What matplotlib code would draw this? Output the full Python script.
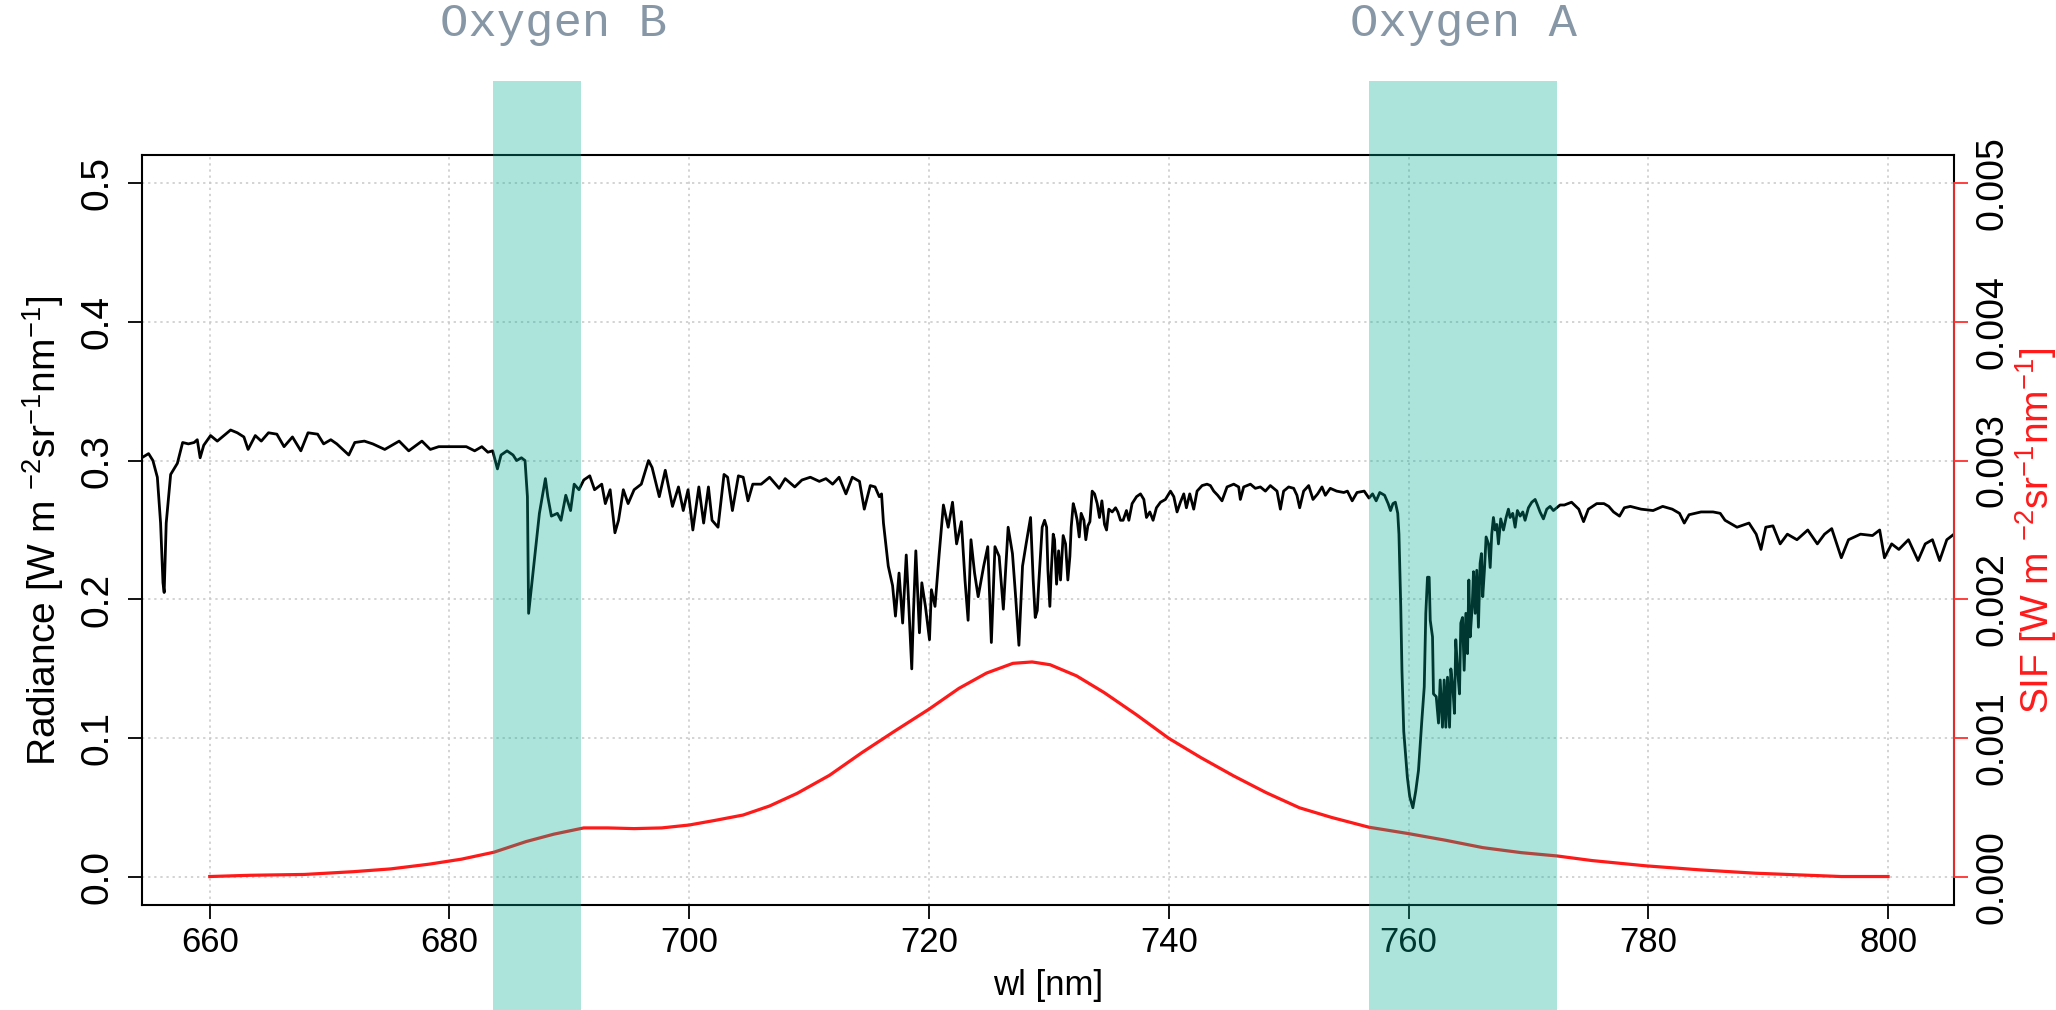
import matplotlib
matplotlib.use("Agg")
import matplotlib.pyplot as plt

plt.rcParams['font.family'] = ['Liberation Sans', 'DejaVu Sans']
plt.rcParams['mathtext.default'] = 'regular'

# radiance spectrum [W m-2 sr-1 nm-1]
wl = [654.33, 654.9, 655.26, 655.63, 655.9, 656.1, 656.2, 656.37, 656.74, 657.3,
      657.74, 658.22, 658.7, 658.96, 659.2, 659.5, 660.07, 660.63, 661.74, 662.3,
      662.85, 663.2, 663.8, 664.3, 664.9, 665.6, 666.2, 666.9, 667.6, 668.2,
      669.0, 669.5, 670.1, 670.6, 671.6, 672.1, 672.9, 673.6, 674.6, 675.8,
      676.6, 677.7, 678.4, 679.1, 680.3, 681.4, 682.1, 682.7, 683.2, 683.6,
      684.0, 684.3, 684.8, 685.3, 685.6, 686.0, 686.3, 686.5, 686.6, 686.9,
      687.5, 688.0, 688.2, 688.5, 689.0, 689.3, 689.7, 690.1, 690.4, 690.8,
      691.2, 691.7, 692.1, 692.7, 693.0, 693.4, 693.8, 694.1, 694.5, 694.9,
      695.4, 696.0, 696.6, 696.9, 697.5, 698.0, 698.6, 699.1, 699.5, 699.9,
      700.3, 700.8, 701.2, 701.6, 701.9, 702.4, 702.9, 703.2, 703.6, 704.1,
      704.5, 704.9, 705.3, 706.0, 706.7, 707.5, 708.0, 708.8, 709.4, 710.1,
      710.85, 711.4, 711.96, 712.5, 713.07, 713.6, 714.2, 714.6, 715.1, 715.5,
      715.85, 716.04, 716.2, 716.6, 716.96, 717.2, 717.5, 717.8, 718.1, 718.26,
      718.56, 718.7, 718.9, 719.2, 719.4, 719.7, 720.04, 720.2, 720.5, 720.85,
      721.2, 721.6, 721.96, 722.3, 722.7, 723.0, 723.26, 723.5, 723.8, 724.1,
      724.56, 724.9, 725.2, 725.5, 725.85, 726.2, 726.6, 726.96, 727.2, 727.5,
      727.8, 728.1,
      728.47, 728.69, 728.86, 729.03, 729.17, 729.44, 729.64, 729.81, 729.92, 730.08,
      730.19, 730.36, 730.47, 730.64, 730.81, 730.97, 731.19, 731.39, 731.58, 731.75,
      731.86, 732.03, 732.19, 732.36, 732.53, 732.69, 732.92, 733.08, 733.25, 733.42,
      733.61, 733.81, 734.03, 734.22, 734.42, 734.64, 734.81, 735.0, 735.28, 735.56,
      735.75, 735.97, 736.19, 736.47, 736.67, 736.94, 737.31, 737.64, 737.92, 738.14,
      738.42, 738.69, 738.97, 739.31, 739.72, 740.14, 740.42, 740.69, 740.97, 741.25,
      741.47, 741.75, 742.08, 742.36, 742.78, 743.19, 743.47, 743.75, 744.08, 744.44,
      744.86, 745.42, 745.83, 745.97, 746.25, 746.81, 747.22, 747.64, 748.06, 748.47,
      749.03, 749.31, 749.58, 750.0, 750.42, 750.69, 750.92, 751.25, 751.67, 752.03,
      752.42, 752.78, 753.06, 753.47,
      754.0, 754.6, 754.9, 755.3, 755.7, 756.3, 756.7, 757.0, 757.3, 757.6,
      758.0, 758.3, 758.5, 758.7, 758.9, 759.1, 759.2, 759.35, 759.45, 759.6,
      759.9, 760.1, 760.36, 760.6,
      760.83, 761.11, 761.31, 761.44, 761.58, 761.72, 761.81, 762.0, 762.08, 762.31,
      762.5, 762.64, 762.83, 762.97, 763.11, 763.25, 763.42, 763.53, 763.69, 763.83,
      763.94, 764.11, 764.25, 764.36, 764.5, 764.64, 764.78, 764.92, 765.03, 765.14,
      765.31, 765.42, 765.56, 765.69, 765.83, 765.97, 766.08, 766.19, 766.33, 766.47,
      766.67, 766.81, 766.94, 767.08, 767.22, 767.36, 767.5, 767.69, 767.92, 768.14,
      768.33, 768.47, 768.69, 768.89, 769.08, 769.31, 769.53, 769.72, 770.0, 770.28,
      770.56, 770.75, 770.97, 771.25, 771.53, 771.81, 772.08, 772.36, 772.64,
      773.0, 773.6, 774.2, 774.6, 775.0, 775.7, 776.3, 776.7, 777.1, 777.6,
      778.0, 778.5,
      779.4, 780.4, 781.2, 782.0, 782.6, 783.0, 783.4, 784.4, 785.4, 786.0,
      786.4, 787.4, 788.4, 789.0, 789.4, 789.8, 790.4, 791.0, 791.6, 792.4,
      793.3, 794.1, 794.7, 795.3, 796.1, 796.7, 797.7, 798.7, 799.3, 799.7,
      800.3, 800.9, 801.7, 802.5, 803.1, 803.7, 804.3, 804.9, 805.5]
radiance = [0.302, 0.305, 0.300, 0.288, 0.255, 0.212, 0.205, 0.255, 0.290, 0.298,
            0.313, 0.312, 0.313, 0.315, 0.302, 0.311, 0.318, 0.314, 0.322, 0.320,
            0.317, 0.308, 0.318, 0.314, 0.320, 0.319, 0.310, 0.317, 0.307, 0.320,
            0.319, 0.312, 0.315, 0.312, 0.304, 0.313, 0.314, 0.312, 0.308, 0.314,
            0.307, 0.314, 0.308, 0.310, 0.310, 0.310, 0.307, 0.310, 0.306, 0.307,
            0.294, 0.304, 0.307, 0.304, 0.300, 0.302, 0.300, 0.274, 0.190, 0.214,
            0.262, 0.287, 0.274, 0.260, 0.262, 0.257, 0.275, 0.264, 0.283, 0.279,
            0.286, 0.289, 0.279, 0.283, 0.269, 0.279, 0.248, 0.257, 0.279, 0.269,
            0.279, 0.283, 0.300, 0.295, 0.274, 0.293, 0.267, 0.281, 0.264, 0.279,
            0.250, 0.281, 0.255, 0.281, 0.257, 0.252, 0.290, 0.288, 0.264, 0.289,
            0.288, 0.271, 0.283, 0.283, 0.288, 0.280, 0.287, 0.281, 0.286, 0.288,
            0.285, 0.287, 0.283, 0.288, 0.276, 0.288, 0.285, 0.265, 0.282, 0.281,
            0.274, 0.276, 0.255, 0.224, 0.210, 0.188, 0.219, 0.183, 0.232, 0.205,
            0.150, 0.190, 0.235, 0.176, 0.212, 0.195, 0.171, 0.207, 0.195, 0.233,
            0.268, 0.252, 0.270, 0.240, 0.256, 0.214, 0.185, 0.243, 0.219, 0.202,
            0.224, 0.238, 0.169, 0.238, 0.231, 0.193, 0.252, 0.233, 0.205, 0.167,
            0.224, 0.240,
            0.259, 0.214, 0.187, 0.192, 0.214, 0.252, 0.257, 0.252, 0.221, 0.195,
            0.219, 0.247, 0.243, 0.211, 0.235, 0.214, 0.246, 0.240, 0.214, 0.231,
            0.252, 0.269, 0.264, 0.257, 0.245, 0.262, 0.257, 0.243, 0.253, 0.256,
            0.278, 0.276, 0.269, 0.259, 0.271, 0.254, 0.250, 0.265, 0.263, 0.266,
            0.263, 0.257, 0.257, 0.264, 0.257, 0.269, 0.274, 0.276, 0.272, 0.259,
            0.263, 0.257, 0.266, 0.270, 0.272, 0.278, 0.274, 0.263, 0.270, 0.276,
            0.266, 0.276, 0.265, 0.278, 0.282, 0.283, 0.282, 0.278, 0.275, 0.271,
            0.281, 0.283, 0.281, 0.272, 0.281, 0.283, 0.280, 0.281, 0.278, 0.282,
            0.278, 0.265, 0.278, 0.281, 0.280, 0.275, 0.266, 0.278, 0.282, 0.272,
            0.276, 0.281, 0.275, 0.280,
            0.278, 0.277, 0.278, 0.271, 0.277, 0.278, 0.273, 0.276, 0.271, 0.277,
            0.275, 0.269, 0.264, 0.269, 0.270, 0.262, 0.247, 0.195, 0.149, 0.105,
            0.072, 0.058, 0.050, 0.062,
            0.077, 0.113, 0.137, 0.190, 0.216, 0.216, 0.185, 0.173, 0.132, 0.130,
            0.111, 0.142, 0.108, 0.142, 0.108, 0.144, 0.108, 0.150, 0.137, 0.118,
            0.171, 0.147, 0.132, 0.183, 0.187, 0.149, 0.190, 0.161, 0.214, 0.173,
            0.195, 0.220, 0.190, 0.221, 0.180, 0.226, 0.233, 0.202, 0.221, 0.245,
            0.240, 0.223, 0.247, 0.259, 0.250, 0.254, 0.240, 0.258, 0.250, 0.259,
            0.265, 0.259, 0.262, 0.252, 0.264, 0.260, 0.263, 0.257, 0.266, 0.270,
            0.272, 0.268, 0.263, 0.258, 0.265, 0.267, 0.264, 0.266, 0.268,
            0.268, 0.270, 0.265, 0.256, 0.265, 0.269, 0.269, 0.267, 0.263, 0.260,
            0.266, 0.267,
            0.265, 0.264, 0.267, 0.265, 0.262, 0.255, 0.261, 0.263, 0.263, 0.262,
            0.257, 0.252, 0.255, 0.247, 0.236, 0.252, 0.253, 0.240, 0.247, 0.243,
            0.250, 0.240, 0.247, 0.251, 0.230, 0.243, 0.247, 0.246, 0.250, 0.230,
            0.240, 0.236, 0.243, 0.228, 0.240, 0.243, 0.228, 0.243, 0.247]

# SIF spectrum [W m-2 sr-1 nm-1]
sif_wl = [660, 663.4, 667.9, 672, 675.1, 678.3, 681, 683.7, 686.4, 688.7,
          691.2, 693.2, 695.4, 697.7, 700, 702.2, 704.5, 706.7, 709, 711.7,
          714.4, 717.1, 720, 722.5, 724.8, 727, 728.6, 730.1, 732.3, 734.6,
          737.3, 740, 742.7, 745.4, 748.1, 750.9, 753.6, 756.7, 760, 763.1,
          766.2, 769.4, 772.4, 775.3, 779.8, 784.3, 788.9, 793.4, 796.1, 800]
sif = [0.000005, 0.000014, 0.00002, 0.00004, 0.00006, 0.000094, 0.00013, 0.00018, 0.000257, 0.00031,
       0.000355, 0.000355, 0.00035, 0.000355, 0.000376, 0.00041, 0.000448, 0.000513, 0.000604, 0.000734,
       0.000897, 0.00105, 0.00121, 0.00136, 0.00147, 0.00154, 0.00155, 0.00153, 0.00145, 0.00133,
       0.00117, 0.00100, 0.00086, 0.00073, 0.00061, 0.00050, 0.00043, 0.00036, 0.000314, 0.000266,
       0.000213, 0.000177, 0.000153, 0.00012, 0.000082, 0.000053, 0.000029, 0.000014, 0.000005, 0.000005]

# oxygen absorption bands (nm)
band_names = ['Oxygen B', 'Oxygen A']
band_lo = [683.6, 756.7]
band_hi = [691.0, 772.4]

x_ticks = [660, 680, 700, 720, 740, 760, 780, 800]
y_ticks = [0.0, 0.1, 0.2, 0.3, 0.4, 0.5]
y_labels = ['0.0', '0.1', '0.2', '0.3', '0.4', '0.5']
sif_ticks = [0.0, 0.001, 0.002, 0.003, 0.004, 0.005]
sif_labels = ['0.000', '0.001', '0.002', '0.003', '0.004', '0.005']

assert len(wl) == len(radiance) and len(sif_wl) == len(sif)

W, H = 2056, 1010
fig = plt.figure(figsize=(W / 100, H / 100), dpi=100)
ax = fig.add_axes([142 / W, 1 - 905 / H, (1954 - 142) / W, (905 - 155) / H])

ax.plot(wl, radiance, color='black', lw=2.0, zorder=3)
ax.set_xlim(654.35, 805.5)
ax.set_ylim(-0.02, 0.52)
ax.set_xticks(x_ticks)
ax.set_yticks(y_ticks)
ax.set_yticklabels(y_labels)
ax.grid(True, color='#c8c8c8', linestyle=(0, (1.5, 2.5)), lw=1.1)
ax.tick_params(axis='both', direction='out', length=10, width=1.3)
ax.tick_params(axis='x', pad=5, labelsize=25)
ax.tick_params(axis='y', pad=9, labelsize=28, labelrotation=90)
for lab in ax.get_yticklabels():
    lab.set_va('center')
for s in ax.spines.values():
    s.set_linewidth(1.5)

ax2 = ax.twinx()
ax2.plot(sif_wl, sif, color='#ff1a1a', lw=2.3, zorder=3)
ax2.set_ylim(-0.0002, 0.0052)
ax2.set_yticks(sif_ticks)
ax2.set_yticklabels(sif_labels)
for side in ['left', 'top', 'bottom']:
    ax2.spines[side].set_visible(False)
ax2.spines['right'].set_color('#ff3030')
ax2.spines['right'].set_linewidth(1.3)
ax2.spines['right'].set_bounds(0, 0.005)
ax2.tick_params(axis='y', direction='out', length=10, width=1.3, color='#ff3030',
                labelcolor='black', labelsize=27, pad=5, labelrotation=90)
for lab in ax2.get_yticklabels():
    lab.set_va('center')

# shaded O2 bands, running past the plot box
for lo, hi in zip(band_lo, band_hi):
    ax2.axvspan(lo, hi, ymin=-0.14, ymax=1 + (155 - 81) / 750,
                color=(0, 172 / 255, 148 / 255), alpha=0.325, lw=0,
                clip_on=False, zorder=5)

fig.text(553 / W, 1 - 24 / H, band_names[0], family='Liberation Mono',
         fontsize=34, color='#8797a6', ha='center', va='center')
fig.text(1464 / W, 1 - 24 / H, band_names[1], family='Liberation Mono',
         fontsize=34, color='#8797a6', ha='center', va='center')

fig.text(43 / W, 1 - 531 / H, r'Radiance [W m $^{-2}$sr$^{-1}$nm$^{-1}$]',
         rotation=90, fontsize=28, ha='center', va='center')
fig.text(2036 / W, 1 - 531 / H, r'SIF [W m $^{-2}$sr$^{-1}$nm$^{-1}$]',
         rotation=90, fontsize=28, color='#ff1a1a', ha='center', va='center')
fig.text(1048 / W, 1 - 986 / H, 'wl [nm]', fontsize=25, ha='center', va='center')

fig.savefig('out.png', dpi=100, facecolor='white')
